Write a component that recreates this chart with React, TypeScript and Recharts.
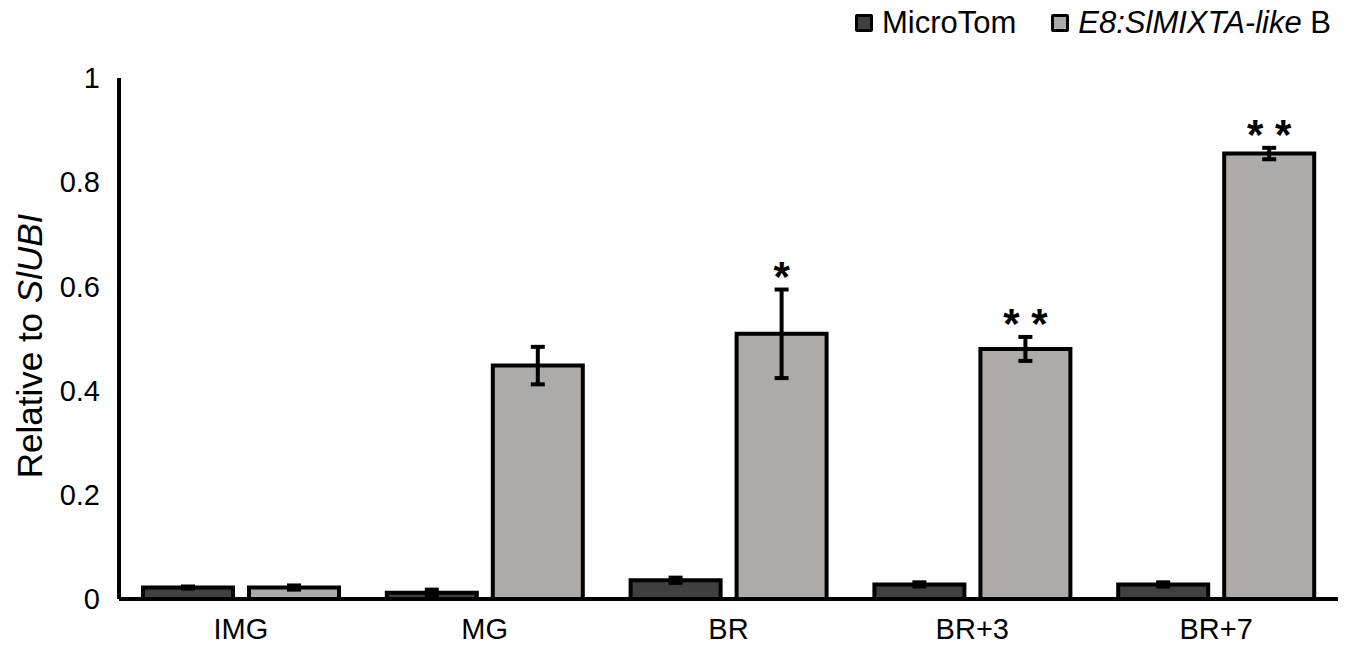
import { BarChart, Bar, XAxis, YAxis, ErrorBar, LabelList } from 'recharts';

const stages = ['IMG', 'MG', 'BR', 'BR+3', 'BR+7'];
const microTom = [0.022, 0.012, 0.036, 0.028, 0.028];
const microTomErr = [0.002, 0.006, 0.005, 0.004, 0.004];
const mixta = [0.022, 0.448, 0.509, 0.48, 0.855];
const mixtaErr = [0.004, 0.036, 0.085, 0.023, 0.011];
const significance = ['', '', '*', '* *', '* *'];
const yTicks = [0, 0.2, 0.4, 0.6, 0.8, 1];

const data = stages.map((stage, i) => ({
    stage,
    microTom: microTom[i],
    microTomErr: microTomErr[i],
    mixta: mixta[i],
    mixtaErr: mixtaErr[i],
}));

const FONT = 'Arial, "Liberation Sans", sans-serif';
const DARK = '#404040';
const LIGHT = '#aeaaa7';

const Stars = (props: any) => {
    const { x, y, width, height, index } = props;
    const label = significance[index];
    if (!label) return null;
    const errPx = (mixtaErr[index] * height) / mixta[index];
    return (
        <text
            x={x + width / 2}
            y={y - errPx + 1}
            textAnchor="middle"
            fontFamily={FONT}
            fontWeight="bold"
            fontSize={42}
            fill="#000"
        >
            {label}
        </text>
    );
};

const YLabel = () => {
    const bx = 34;
    const cy = 338;
    return (
        <text
            x={bx}
            y={cy}
            transform={`rotate(-90, ${bx}, ${cy})`}
            textAnchor="middle"
            fontFamily={FONT}
            fontSize={35}
            fill="#000"
        >
            Relative to <tspan fontStyle="italic">SlUBI</tspan>
        </text>
    );
};

const Swatch = ({ color }: { color: string }) => (
    <span
        style={{
            display: 'inline-block',
            width: 12,
            height: 12,
            background: color,
            border: '3px solid #000',
            borderRadius: 2,
            marginRight: 9,
        }}
    />
);

const App = () => {
    return (
        <div style={{ position: 'relative', width: 1346, height: 640 }}>
            <div
                style={{
                    position: 'absolute',
                    left: 847,
                    top: 0,
                    height: 30,
                    display: 'flex',
                    alignItems: 'center',
                    fontFamily: FONT,
                    fontSize: 31,
                    color: '#000',
                    whiteSpace: 'nowrap',
                }}
            >
                <Swatch color={DARK} />
                <span style={{ marginRight: 35 }}>MicroTom</span>
                <Swatch color={LIGHT} />
                <span>
                    <i>E8:SlMIXTA-like</i> B
                </span>
            </div>
            <BarChart
                width={1346}
                height={640}
                data={data}
                margin={{ top: 70, right: 16, bottom: 9, left: 31 }}
                barSize={90}
                barGap={16}
            >
                <XAxis
                    dataKey="stage"
                    height={40}
                    axisLine={{ stroke: '#000', strokeWidth: 4 }}
                    tickLine={false}
                    tickSize={0}
                    tickMargin={19}
                    tick={{ fill: '#000', fontSize: 29, fontFamily: FONT }}
                />
                <YAxis
                    width={80}
                    domain={[0, 1]}
                    ticks={yTicks}
                    interval={0}
                    axisLine={{ stroke: '#000', strokeWidth: 4 }}
                    tickLine={false}
                    tickSize={0}
                    tickMargin={19}
                    tick={{ fill: '#000', fontSize: 29, fontFamily: FONT }}
                    label={{ content: () => <YLabel /> }}
                />
                <Bar dataKey="microTom" fill={DARK} stroke="#000" strokeWidth={4} isAnimationActive={false}>
                    <ErrorBar dataKey="microTomErr" width={7} stroke="#000" strokeWidth={4} />
                </Bar>
                <Bar dataKey="mixta" fill={LIGHT} stroke="#000" strokeWidth={4} isAnimationActive={false}>
                    <ErrorBar dataKey="mixtaErr" width={7} stroke="#000" strokeWidth={4} />
                    <LabelList dataKey="mixta" content={<Stars />} />
                </Bar>
            </BarChart>
        </div>
    );
};

export default App;
